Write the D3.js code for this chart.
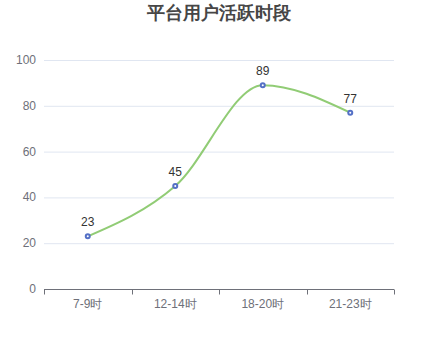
<!DOCTYPE html>
<html><head><meta charset="utf-8">
<script src="https://cdn.jsdelivr.net/npm/d3@7"></script>
<style>body{margin:0;background:#fff;} svg{display:block;font-family:sans-serif;}</style>
</head><body><svg id="c" width="438" height="360"></svg>
<script>
const title = "平台用户活跃时段";
const categories = ["7-9时", "12-14时", "18-20时", "21-23时"];
const values = [23, 45, 89, 77];
const yTicks = [0, 20, 40, 60, 80, 100];

const svg = d3.select("#c");
const m = {l: 44, r: 394, t: 60, b: 289};
const x = d3.scaleBand().domain(categories).range([m.l, m.r]);
const y = d3.scaleLinear().domain([0, 100]).range([m.b, m.t]);

svg.append("text").attr("x", 219).attr("y", 13).attr("text-anchor", "middle")
  .attr("dominant-baseline", "central").attr("font-size", 18).attr("font-weight", "bold")
  .attr("fill", "#464646").text(title);

// grid
svg.append("g").selectAll("line").data(yTicks.filter(d => d > 0)).join("line")
  .attr("x1", m.l).attr("x2", m.r).attr("y1", d => y(d) + 0.5).attr("y2", d => y(d) + 0.5)
  .attr("stroke", "#E0E6F1").attr("stroke-width", 1);

// y labels
svg.append("g").selectAll("text").data(yTicks).join("text")
  .attr("x", m.l - 8).attr("y", d => y(d)).attr("text-anchor", "end")
  .attr("dominant-baseline", "central").attr("font-size", 12).attr("fill", "#6E7079").text(d => d);

// x axis
const xAxis = d3.axisBottom(x).tickSize(0).tickPadding(0);
const gx = svg.append("g").attr("transform", `translate(0,${m.b + 0.5})`);
gx.append("line").attr("x1", m.l).attr("x2", m.r).attr("stroke", "#6E7079");
const bounds = categories.map(c => x(c)).concat([m.r]);
gx.selectAll("line.tk").data(bounds).join("line").attr("class", "tk")
  .attr("x1", d => Math.round(d) + 0.5).attr("x2", d => Math.round(d) + 0.5).attr("y1", 0).attr("y2", 5)
  .attr("stroke", "#6E7079");
gx.selectAll("text").data(categories).join("text")
  .attr("x", d => x(d) + x.bandwidth() / 2).attr("y", 14).attr("text-anchor", "middle")
  .attr("dominant-baseline", "central").attr("font-size", 12).attr("fill", "#6E7079").text(d => d);

const pts = categories.map((c, i) => [x(c) + x.bandwidth() / 2, y(values[i])]);
svg.append("path").attr("d", d3.line().curve(d3.curveMonotoneX)(pts))
  .attr("fill", "none").attr("stroke", "#91cc75").attr("stroke-width", 2);

svg.append("g").selectAll("circle").data(pts).join("circle")
  .attr("cx", d => d[0]).attr("cy", d => d[1]).attr("r", 2)
  .attr("fill", "#fff").attr("stroke", "#5470c6").attr("stroke-width", 2);

svg.append("g").selectAll("text").data(values).join("text")
  .attr("x", (d, i) => pts[i][0]).attr("y", (d, i) => pts[i][1] - 14)
  .attr("text-anchor", "middle").attr("dominant-baseline", "central")
  .attr("font-size", 12).attr("fill", "#333").text(d => d);
</script></body></html>
